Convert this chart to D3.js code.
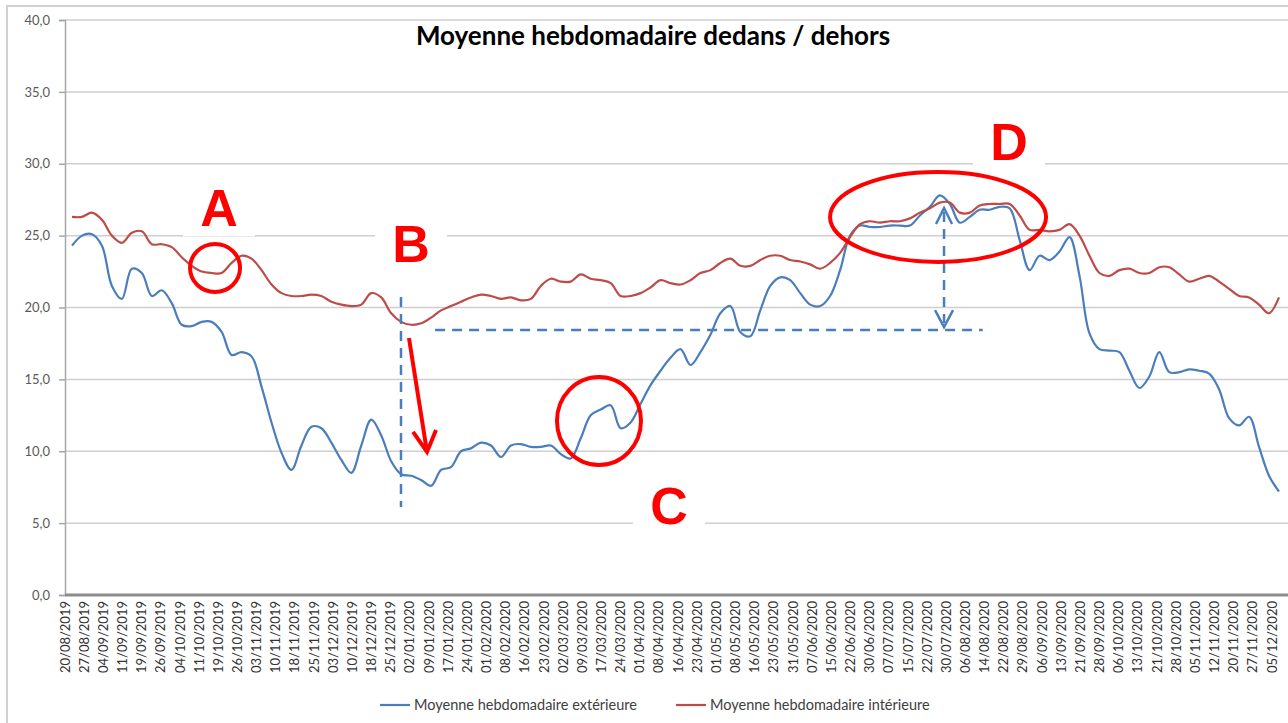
<!DOCTYPE html>
<html>
<head>
<meta charset="utf-8">
<script src="https://cdn.jsdelivr.net/npm/d3@7"></script>
<style>
  body { margin: 0; background: #fff; }
  svg { display: block; }
</style>
</head>
<body>
<script>
var width = 1288, height = 723;

var dateLabels = ["20/08/2019","27/08/2019","04/09/2019","11/09/2019","19/09/2019","26/09/2019","04/10/2019","11/10/2019",
  "19/10/2019","26/10/2019","03/11/2019","10/11/2019","18/11/2019","25/11/2019","03/12/2019","10/12/2019","18/12/2019",
  "25/12/2019","02/01/2020","09/01/2020","17/01/2020","24/01/2020","01/02/2020","08/02/2020","16/02/2020","23/02/2020",
  "02/03/2020","09/03/2020","17/03/2020","24/03/2020","01/04/2020","08/04/2020","16/04/2020","23/04/2020","01/05/2020",
  "08/05/2020","16/05/2020","23/05/2020","31/05/2020","07/06/2020","15/06/2020","22/06/2020","30/06/2020","07/07/2020",
  "15/07/2020","22/07/2020","30/07/2020","06/08/2020","14/08/2020","22/08/2020","29/08/2020","06/09/2020","13/09/2020",
  "21/09/2020","28/09/2020","06/10/2020","13/10/2020","21/10/2020","28/10/2020","05/11/2020","12/11/2020","20/11/2020",
  "27/11/2020","05/12/2020"];

// moyenne hebdomadaire exterieure (bleu)
var exterieur = [24.3,25.0,25.1,24.3,21.5,20.6,22.7,22.4,20.8,21.2,
  20.3,18.8,18.7,19.0,19.0,18.3,16.7,16.9,16.6,14.5,
  12.0,9.9,8.7,10.4,11.7,11.6,10.6,9.4,8.5,10.4,
  12.2,11.1,9.3,8.4,8.3,8.0,7.6,8.7,8.9,10.0,
  10.2,10.6,10.4,9.6,10.4,10.5,10.3,10.3,10.4,9.8,
  9.5,10.9,12.5,12.9,13.2,11.6,12.0,13.3,14.6,15.6,
  16.5,17.1,16.0,16.9,18.1,19.6,20.1,18.3,18.0,19.8,
  21.5,22.1,21.9,21.0,20.2,20.1,20.8,22.6,25.0,25.7,
  25.6,25.6,25.7,25.7,25.7,26.4,27.0,27.8,27.2,25.9,
  26.3,26.8,26.8,27.0,26.9,24.7,22.6,23.6,23.3,23.9,
  24.9,22.2,18.2,17.1,17.0,16.9,15.6,14.4,15.2,16.9,
  15.5,15.5,15.7,15.6,15.4,14.3,12.3,11.8,12.4,10.3,
  8.3,7.2];

// moyenne hebdomadaire interieure (rouge)
var interieur = [26.3,26.3,26.6,26.1,25.0,24.5,25.2,25.3,24.4,24.4,
  24.2,23.5,22.9,22.5,22.4,22.4,23.1,23.6,23.4,22.6,
  21.6,21.0,20.8,20.8,20.9,20.8,20.4,20.2,20.1,20.2,
  21.0,20.7,19.6,19.0,18.8,18.9,19.3,19.8,20.1,20.4,
  20.7,20.9,20.8,20.6,20.7,20.5,20.6,21.5,22.0,21.8,
  21.8,22.3,22.0,21.9,21.7,20.8,20.8,21.0,21.4,21.9,
  21.7,21.6,21.9,22.4,22.6,23.1,23.4,22.9,22.9,23.3,
  23.6,23.6,23.3,23.2,23.0,22.7,23.1,23.8,24.9,25.8,
  26.0,25.9,26.0,26.0,26.2,26.6,26.9,27.3,27.3,26.6,
  26.6,27.1,27.2,27.2,27.2,26.4,25.4,25.4,25.3,25.4,
  25.8,25.0,23.6,22.4,22.2,22.6,22.7,22.4,22.4,22.8,
  22.8,22.3,21.8,22.0,22.2,21.8,21.3,20.8,20.7,20.2,
  19.6,20.7];

var yTicks = [0, 5, 10, 15, 20, 25, 30, 35, 40];
var seriesNames = ["Moyenne hebdomadaire extérieure", "Moyenne hebdomadaire intérieure"];
var seriesColors = ["#4a7ebb", "#be4b48"];

var svg = d3.select("body").append("svg")
    .attr("width", width)
    .attr("height", height);

var x = d3.scaleLinear().domain([0, exterieur.length - 1]).range([72, 1279]);
var xLab = d3.scalePoint().domain(dateLabels).range([65, 1272]);
var y = d3.scaleLinear().domain([0, 40]).range([595, 20]);

// cadre du graphique
svg.append("path")
    .attr("d", "M7," + height + "V6H" + width)
    .attr("fill", "none")
    .attr("stroke", "#d0d0d0")
    .attr("stroke-width", 2);

// quadrillage
svg.append("g").selectAll("line")
    .data(yTicks.filter(function (d) { return d > 0; }))
    .enter().append("line")
    .attr("x1", 65).attr("x2", width)
    .attr("y1", function (d) { return y(d); })
    .attr("y2", function (d) { return y(d); })
    .attr("stroke", "#cfcfcf")
    .attr("stroke-width", 1.5);

// axe vertical
var fmt = d3.format(".1f");
var yAxis = svg.append("g")
    .attr("transform", "translate(65,0)")
    .call(d3.axisLeft(y).tickValues(yTicks).tickSize(6).tickPadding(9)
        .tickFormat(function (d) { return fmt(d).replace(".", ","); }));
yAxis.select(".domain").attr("stroke", "#a6a6a6").attr("stroke-width", 1.5);
yAxis.selectAll(".tick line").attr("stroke", "#a6a6a6").attr("stroke-width", 1.5);
yAxis.selectAll(".tick text")
    .attr("fill", "#595959")
    .style("font-family", "Lato, 'Open Sans', sans-serif")
    .style("font-size", "13px");

// axe horizontal
svg.append("line")
    .attr("x1", 65).attr("x2", width)
    .attr("y1", y(0)).attr("y2", y(0))
    .attr("stroke", "#8c8c8c")
    .attr("stroke-width", 3);

svg.append("g").selectAll("text")
    .data(dateLabels)
    .enter().append("text")
    .attr("transform", function (d) { return "translate(" + xLab(d) + "," + (y(0) + 6) + ") rotate(-90)"; })
    .attr("text-anchor", "end")
    .attr("dy", "0.35em")
    .attr("fill", "#333")
    .style("font-family", "Lato, 'Open Sans', sans-serif")
    .style("font-size", "13px")
    .text(function (d) { return d; });

// boites blanches des lettres
var letters = [
    { t: "A", i: 14.74, v: 25.67 },
    { t: "B", i: 33.98, v: 23.17 },
    { t: "C", i: 59.85, v: 4.94 },
    { t: "D", i: 93.93, v: 30.26 }
];
svg.append("g").selectAll("rect")
    .data(letters)
    .enter().append("rect")
    .attr("x", function (d) { return x(d.i) - 36; })
    .attr("y", function (d) { return y(d.v) - 44; })
    .attr("width", 72)
    .attr("height", 54)
    .attr("fill", "#fff");

// courbes
var line = d3.line()
    .x(function (d, i) { return x(i); })
    .y(function (d) { return y(d); })
    .curve(d3.curveCatmullRom.alpha(0.5));

[exterieur, interieur].forEach(function (s, k) {
    svg.append("path")
        .datum(s)
        .attr("d", line)
        .attr("fill", "none")
        .attr("stroke", seriesColors[k])
        .attr("stroke-width", 2.2)
        .attr("stroke-linejoin", "round");
});

// annotations
var blue = "#4a7ebb", red = "#ff0000";

svg.append("line")
    .attr("x1", x(32.98)).attr("x2", x(32.98))
    .attr("y1", y(20.73)).attr("y2", y(6.12))
    .attr("stroke", blue).attr("stroke-width", 2.5).attr("stroke-dasharray", "10,7");

svg.append("line")
    .attr("x1", x(36.4)).attr("x2", x(91.3))
    .attr("y1", y(18.43)).attr("y2", y(18.43))
    .attr("stroke", blue).attr("stroke-width", 2.5).attr("stroke-dasharray", "10,7");

var ax = x(87.42), aTop = y(26.92), aBot = y(18.64);
svg.append("line")
    .attr("x1", ax).attr("x2", ax)
    .attr("y1", aTop + 4).attr("y2", aBot - 4)
    .attr("stroke", blue).attr("stroke-width", 2.5).attr("stroke-dasharray", "10,7");
svg.append("path")
    .attr("d", "M" + (ax - 8) + "," + (aTop + 16) + "L" + ax + "," + aTop + "L" + (ax + 8) + "," + (aTop + 16) +
               "M" + (ax - 9) + "," + (aBot - 17) + "L" + ax + "," + aBot + "L" + (ax + 9) + "," + (aBot - 17))
    .attr("fill", "none").attr("stroke", blue).attr("stroke-width", 2.5);

var r0 = [x(33.78), y(17.88)], r1 = [x(35.59), y(9.95)];
svg.append("path")
    .attr("d", "M" + r0 + "L" + r1 + "M" + (r1[0] - 14) + "," + (r1[1] - 20) + "L" + r1 + "L" + (r1[0] + 9) + "," + (r1[1] - 22))
    .attr("fill", "none").attr("stroke", red).attr("stroke-width", 4);

var ellipses = [
    { i: 14.34, v: 22.75, rx: 25, ry: 24 },
    { i: 52.83, v: 12.10, rx: 42, ry: 44 },
    { i: 86.82, v: 26.30, rx: 108, ry: 45 }
];
svg.append("g").selectAll("ellipse")
    .data(ellipses)
    .enter().append("ellipse")
    .attr("cx", function (d) { return x(d.i); })
    .attr("cy", function (d) { return y(d.v); })
    .attr("rx", function (d) { return d.rx; })
    .attr("ry", function (d) { return d.ry; })
    .attr("fill", "none").attr("stroke", red).attr("stroke-width", 4);

svg.append("g").selectAll("text")
    .data(letters)
    .enter().append("text")
    .attr("x", function (d) { return x(d.i); })
    .attr("y", function (d) { return y(d.v); })
    .attr("text-anchor", "middle")
    .attr("fill", red)
    .style("font-family", "'Liberation Sans', Arial, sans-serif")
    .style("font-weight", "bold")
    .style("font-size", "52px")
    .text(function (d) { return d.t; });

// titre
svg.append("text")
    .attr("x", 653).attr("y", 45)
    .attr("text-anchor", "middle")
    .attr("fill", "#000")
    .style("font-family", "Lato, 'Open Sans', sans-serif")
    .style("font-weight", "bold")
    .style("font-size", "26px")
    .text("Moyenne hebdomadaire dedans / dehors");

// legende
var legX = [380, 676];
var leg = svg.append("g").selectAll("g")
    .data(seriesNames)
    .enter().append("g")
    .attr("transform", function (d, k) { return "translate(" + legX[k] + ",705)"; });
leg.append("line")
    .attr("x1", 0).attr("x2", 30)
    .attr("stroke", function (d, k) { return seriesColors[k]; })
    .attr("stroke-width", 2.2);
leg.append("text")
    .attr("x", 34).attr("dy", "0.35em")
    .attr("fill", "#404040")
    .style("font-family", "Lato, 'Open Sans', sans-serif")
    .style("font-size", "14.5px")
    .text(function (d) { return d; });
</script>
</body>
</html>
